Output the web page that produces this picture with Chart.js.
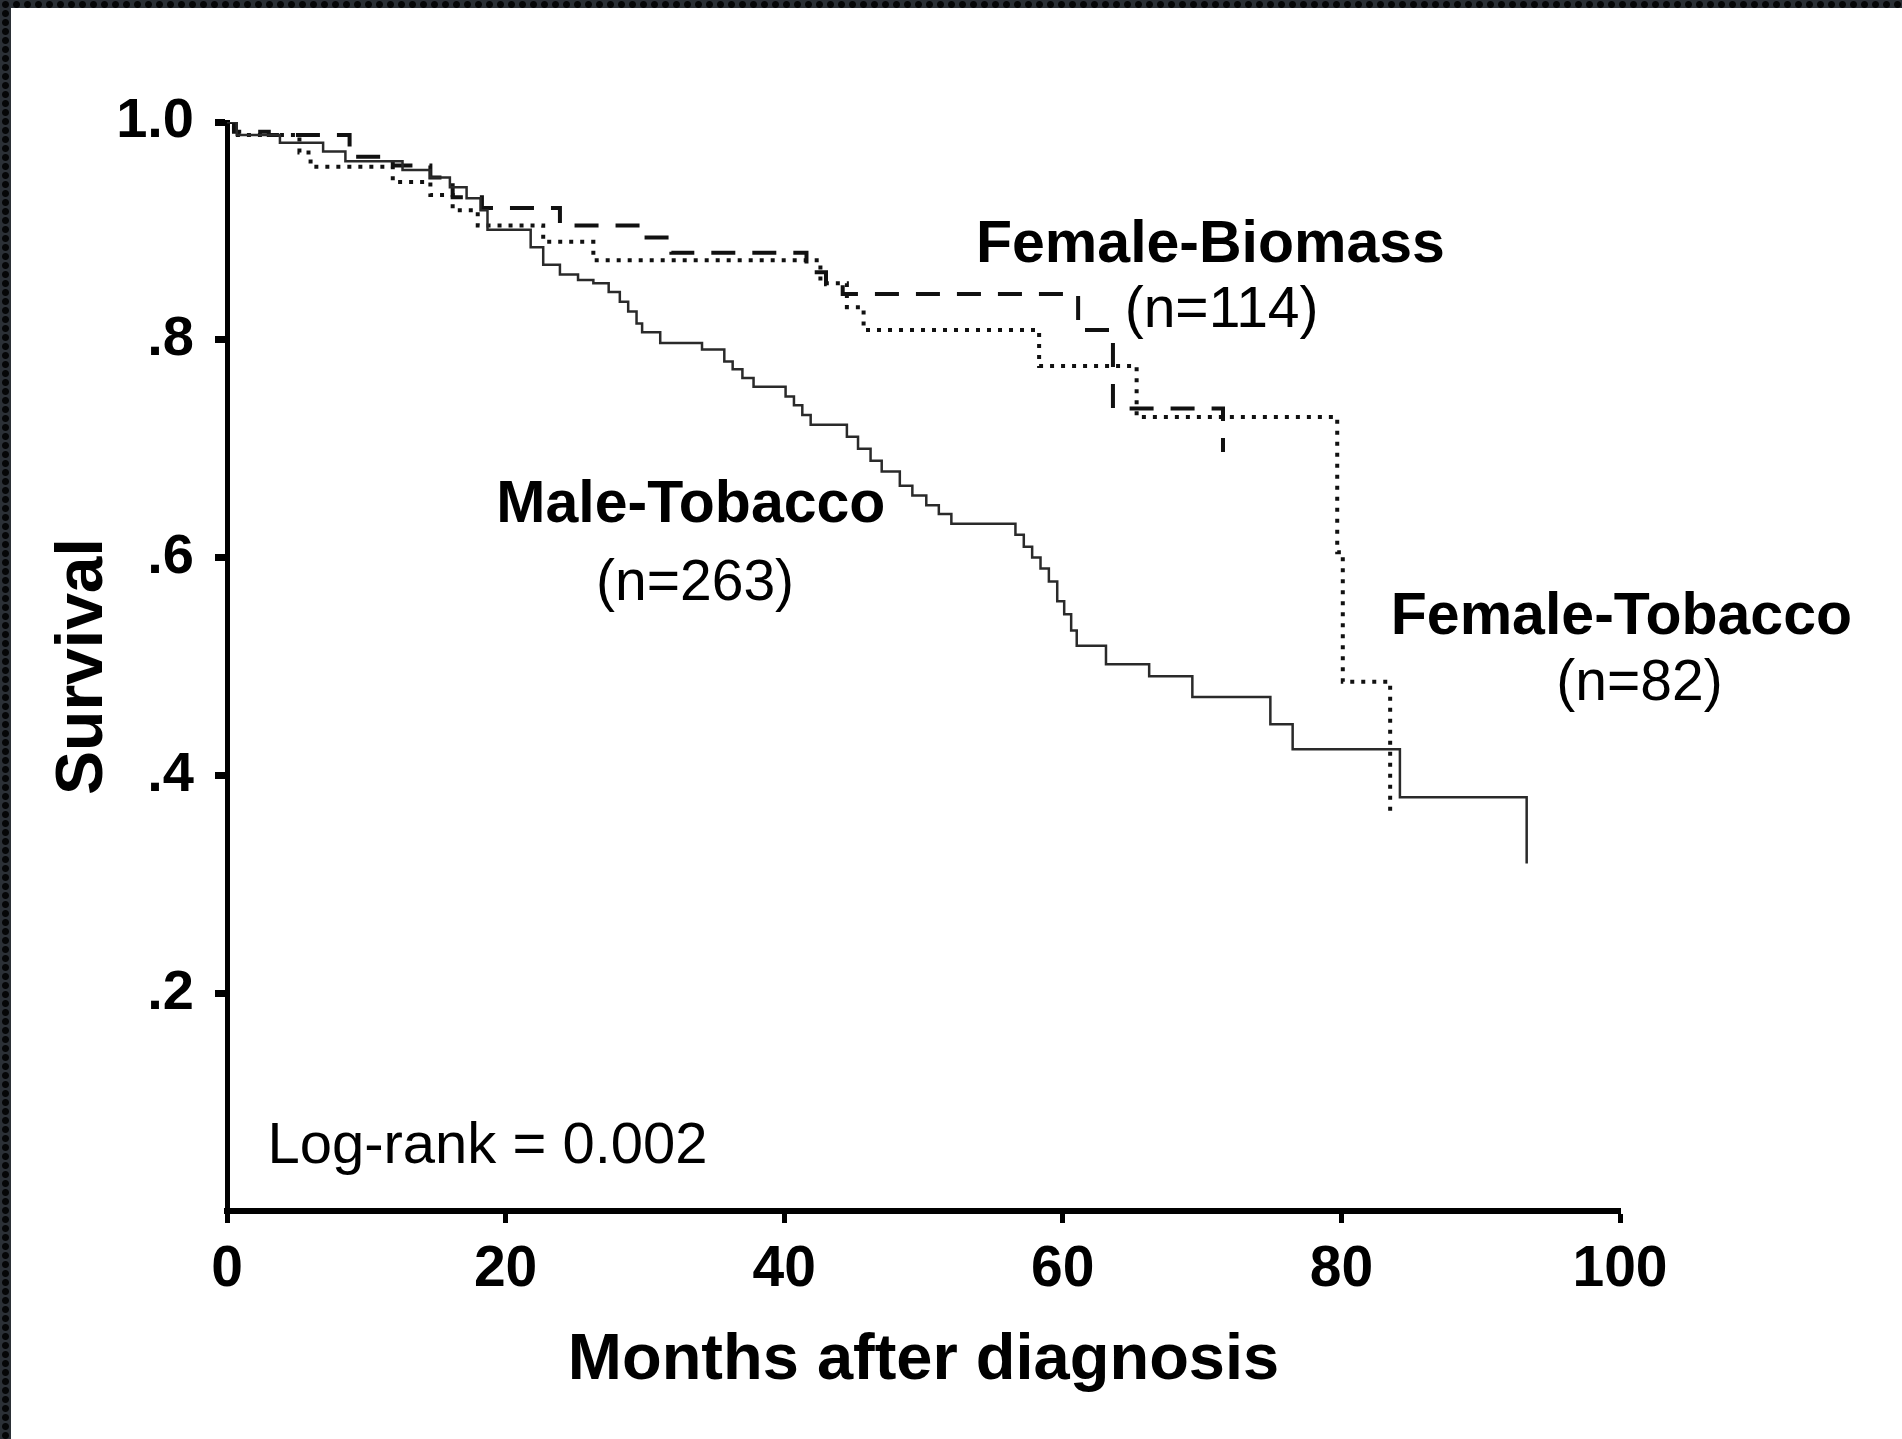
<!DOCTYPE html>
<html>
<head>
<meta charset="utf-8">
<title>Survival by exposure group</title>
<script src="https://cdn.jsdelivr.net/npm/chart.js@4.4.1/dist/chart.umd.min.js"></script>
<style>
  html, body { margin: 0; padding: 0; }
  body {
    width: 1902px; height: 1439px; overflow: hidden; position: relative;
    background-color: #2b3036;
    background-image: radial-gradient(circle, #050607 3px, transparent 4px);
    background-size: 11px 9px;
  }
  #wrap { position: absolute; left: 11px; top: 8px; width: 1891px; height: 1431px; background: #fff; }
</style>
</head>
<body>
<div id="wrap"><canvas id="km" width="1891" height="1431"></canvas></div>
<script>
const FONT = '"Liberation Sans", Arial, Helvetica, sans-serif';

// Male-Tobacco (solid)
const maleMonths = [0, 0.7, 3.8, 6.9, 8.5, 12.6, 14.6, 16.0, 17.2, 18.2, 18.7, 21.8, 22.7, 23.9, 25.2, 26.3, 27.4,
  28.2, 28.8, 29.4, 29.8, 31.1, 34.1, 35.7, 36.3, 37.0, 37.8, 40.1, 40.7, 41.3, 41.9, 44.5, 45.3, 46.2, 47.0,
  48.3, 49.2, 50.2, 51.1, 52.0, 56.6, 57.2, 57.8, 58.4, 59.0, 59.6, 60.1, 60.6, 61.0, 63.1, 66.2, 69.3, 74.9,
  76.5, 84.2, 93.3];
const maleSurv = [1.0, 0.988, 0.981, 0.973, 0.964, 0.956, 0.949, 0.940, 0.930, 0.919, 0.901, 0.885, 0.869, 0.860, 0.855, 0.852, 0.844,
  0.835, 0.826, 0.815, 0.807, 0.797, 0.791, 0.780, 0.773, 0.765, 0.757, 0.748, 0.740, 0.731, 0.722, 0.711, 0.700, 0.689, 0.679,
  0.666, 0.657, 0.648, 0.640, 0.631, 0.621, 0.610, 0.600, 0.590, 0.578, 0.560, 0.548, 0.533, 0.519, 0.502, 0.491, 0.472, 0.447,
  0.424, 0.380, 0.319];

// Female-Biomass (dashed)
const biomassMonths = [0, 0.5, 3.0, 8.8, 11.9, 14.6, 16.2, 18.3, 23.9, 29.9, 31.9, 41.6, 43.0, 44.2, 61.1, 63.6, 71.5];
const biomassSurv = [1.0, 0.991, 0.988, 0.968, 0.960, 0.949, 0.931, 0.921, 0.905, 0.894, 0.880, 0.862, 0.851, 0.842, 0.809, 0.737, 0.697];

// Female-Tobacco (dotted)
const femTobMonths = [0, 0.5, 5.2, 6.0, 11.9, 14.6, 16.2, 18.0, 22.7, 26.3, 42.6, 44.5, 45.7, 58.3, 65.3, 79.7, 80.1, 83.5];
const femTobSurv = [1.0, 0.988, 0.972, 0.959, 0.945, 0.933, 0.919, 0.905, 0.890, 0.873, 0.852, 0.830, 0.809, 0.776, 0.729, 0.605, 0.486, 0.366];

const xTicks = [0, 20, 40, 60, 80, 100];
const yTicks = [0.2, 0.4, 0.6, 0.8, 1.0];
const yTickLabels = ['.2', '.4', '.6', '.8', '1.0'];

const groupNames = ['Male-Tobacco', 'Female-Biomass', 'Female-Tobacco'];
const groupSizes = ['(n=263)', '(n=114)', '(n=82)'];
const logRankText = 'Log-rank = 0.002';

function toPoints(months, surv) {
  return months.map((m, i) => ({ x: m, y: surv[i] }));
}

// where the in-plot texts sit, in axis units (baseline)
const labelSpots = [
  { text: groupNames[0], x: 33.3, y: 0.633, bold: true, size: 59, align: 'center' },
  { text: groupSizes[0], x: 33.6, y: 0.561, bold: false, size: 57, align: 'center' },
  { text: groupNames[1], x: 70.6, y: 0.871, bold: true, size: 59, align: 'center' },
  { text: groupSizes[1], x: 71.4, y: 0.812, bold: false, size: 57, align: 'center' },
  { text: groupNames[2], x: 100.1, y: 0.530, bold: true, size: 59, align: 'center' },
  { text: groupSizes[2], x: 101.4, y: 0.469, bold: false, size: 57, align: 'center' },
  { text: logRankText, x: 2.9, y: 0.044, bold: false, size: 58, align: 'left' }
];

const curveLabels = {
  id: 'curveLabels',
  afterDatasetsDraw(chart) {
    const { ctx, scales: { x, y } } = chart;
    ctx.save();
    ctx.fillStyle = '#000';
    ctx.textBaseline = 'alphabetic';
    labelSpots.forEach(l => {
      ctx.font = (l.bold ? 'bold ' : '') + l.size + 'px ' + FONT;
      ctx.textAlign = l.align;
      ctx.fillText(l.text, x.getPixelForValue(l.x), y.getPixelForValue(l.y));
    });
    ctx.restore();
  }
};

new Chart(document.getElementById('km'), {
  type: 'line',
  data: {
    datasets: [
      {
        label: groupNames[0],
        data: toPoints(maleMonths, maleSurv),
        borderColor: '#2a2a2a',
        borderWidth: 2.5,
        stepped: 'before',
        pointRadius: 0,
        fill: false
      },
      {
        label: groupNames[1],
        data: toPoints(biomassMonths, biomassSurv),
        borderColor: '#111',
        borderWidth: 4,
        borderDash: [24, 17],
        stepped: 'before',
        pointRadius: 0,
        fill: false
      },
      {
        label: groupNames[2],
        data: toPoints(femTobMonths, femTobSurv),
        borderColor: '#111',
        borderWidth: 4,
        borderDash: [4, 7],
        borderCapStyle: 'butt',
        stepped: 'before',
        pointRadius: 0,
        fill: false
      }
    ]
  },
  options: {
    responsive: false,
    animation: false,
    layout: { padding: { top: 114, right: 282, bottom: 0, left: 0 } },
    plugins: {
      legend: { display: false },
      tooltip: { enabled: false }
    },
    scales: {
      x: {
        type: 'linear',
        min: 0,
        max: 100,
        afterBuildTicks: s => { s.ticks = xTicks.map(v => ({ value: v })); },
        afterFit: s => { s.height = 228; s.paddingLeft = 0; s.paddingRight = 0; },
        border: { display: true, color: '#000', width: 6 },
        grid: { drawOnChartArea: false, drawTicks: true, tickLength: 12, tickWidth: 5, tickColor: '#000' },
        ticks: {
          color: '#000', padding: 13, autoSkip: false, maxRotation: 0,
          font: { family: FONT, size: 57, weight: 'bold' }
        },
        title: {
          display: true, text: 'Months after diagnosis', color: '#000',
          font: { family: FONT, size: 65, weight: 'bold' },
          padding: { top: 0, bottom: 39 }
        }
      },
      y: {
        type: 'linear',
        min: 0,
        max: 1,
        afterBuildTicks: s => { s.ticks = yTicks.map(v => ({ value: v })); },
        afterFit: s => { s.width = 216; s.paddingTop = 0; s.paddingBottom = 0; },
        border: { display: true, color: '#000', width: 5 },
        grid: { drawOnChartArea: false, drawTicks: true, tickLength: 12, tickWidth: 7, tickColor: '#000' },
        ticks: {
          color: '#000', padding: 21, autoSkip: false,
          font: { family: FONT, size: 56, weight: 'bold' },
          callback: (v, i) => yTickLabels[i]
        },
        title: {
          display: true, text: 'Survival', color: '#000',
          font: { family: FONT, size: 66, weight: 'bold' },
          padding: { top: 33, bottom: 0 }
        }
      }
    }
  },
  plugins: [curveLabels]
});
</script>
</body>
</html>
